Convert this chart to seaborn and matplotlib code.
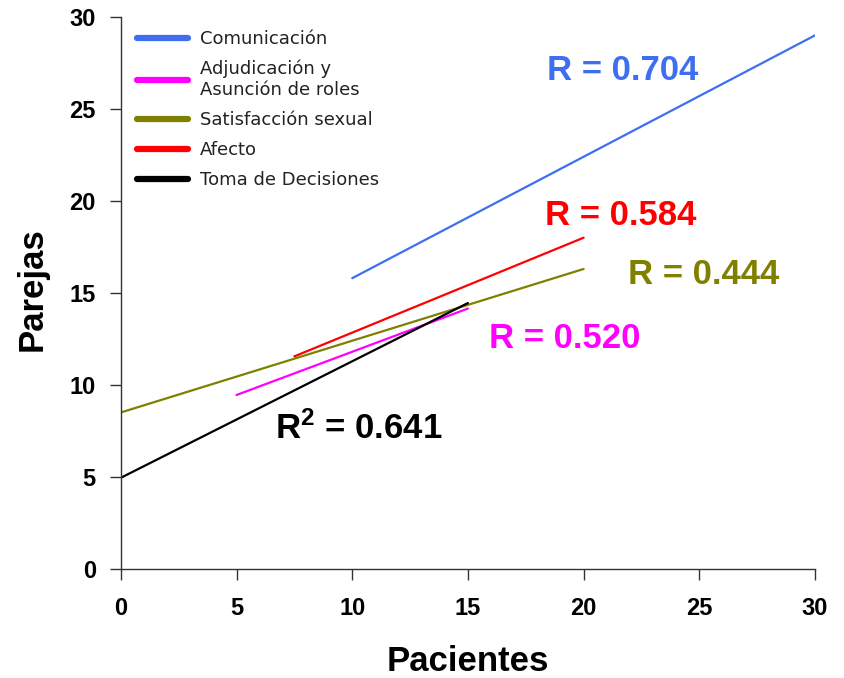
import numpy as np
import pandas as pd
import matplotlib
matplotlib.use("Agg")
import matplotlib.pyplot as plt
import seaborn as sns
from matplotlib.lines import Line2D

# series: start/end points of each fitted line (Pacientes -> Parejas)
series = ["Comunicación", "Adjudicación y\nAsunción de roles", "Satisfacción sexual",
          "Afecto", "Toma de Decisiones"]
x_start = [10.0, 5.0, 0.0, 7.5, 0.0]
x_end = [30.0, 15.0, 20.0, 20.0, 15.0]
y_start = [15.8, 9.45, 8.5, 11.55, 4.95]
y_end = [29.0, 14.15, 16.3, 18.0, 14.45]
colors = ["#3f6ff0", "#ff00ff", "#808000", "#ff0000", "#000000"]

# correlation labels
r_labels = ["R = 0.704", "R = 0.520", "R = 0.444", "R = 0.584", "R$^{2}$ = 0.641"]
r_x = [21.7, 19.2, 25.2, 21.6, 10.3]
r_y = [27.1, 12.5, 16.0, 19.2, 7.6]

rows = []
for s, xa, xb, ya, yb in zip(series, x_start, x_end, y_start, y_end):
    rows.append({"Serie": s, "Pacientes": xa, "Parejas": ya})
    rows.append({"Serie": s, "Pacientes": xb, "Parejas": yb})
df = pd.DataFrame(rows)

sns.set_style("ticks")
plt.rcParams["font.family"] = ["Liberation Sans", "DejaVu Sans"]
plt.rcParams["mathtext.fontset"] = "custom"
plt.rcParams["mathtext.rm"] = "Liberation Sans:bold"
plt.rcParams["mathtext.it"] = "Liberation Sans:bold"
plt.rcParams["mathtext.bf"] = "Liberation Sans:bold"

fig = plt.figure(figsize=(8.45, 6.78), dpi=100)
ax = fig.add_axes([0.143, 0.161, 0.8215, 0.814])

sns.lineplot(data=df, x="Pacientes", y="Parejas", hue="Serie", hue_order=series,
             palette=colors, linewidth=1.6, ax=ax, legend=False)

ax.set_xlim(0, 30)
ax.set_ylim(0, 30)
ax.set_xticks(range(0, 31, 5))
ax.set_yticks(range(0, 31, 5))
sns.despine(ax=ax)
for sp in ["left", "bottom"]:
    ax.spines[sp].set_linewidth(1.0)
    ax.spines[sp].set_color("#333333")
ax.tick_params(axis="both", length=8, width=1.0, labelsize=17, color="#333333",
               labelcolor="black")
ax.tick_params(axis="x", pad=12)
ax.tick_params(axis="y", pad=10)
for lab in ax.get_xticklabels() + ax.get_yticklabels():
    lab.set_fontweight("bold")

ax.set_xlabel("Pacientes", fontsize=25, fontweight="bold", labelpad=18, color="black")
ax.set_ylabel("Parejas", fontsize=25, fontweight="bold", labelpad=14, color="black")
ax.yaxis.set_label_coords(-0.104, 0.507)

for t, xx, yy, c in zip(r_labels, r_x, r_y, colors):
    ax.text(xx, yy, t, color=c, fontsize=25, fontweight="bold", ha="center", va="center")

handles = [Line2D([0], [0], color=c, linewidth=4.5) for c in colors]
leg = ax.legend(handles, series, loc="upper left", bbox_to_anchor=(0.0, 1.006),
                frameon=False, handlelength=2.8, handletextpad=0.7, labelspacing=0.66,
                prop={"family": "DejaVu Sans", "size": 13})
for t in leg.get_texts():
    t.set_color("#222222")

fig.savefig("out.png", dpi=100)
